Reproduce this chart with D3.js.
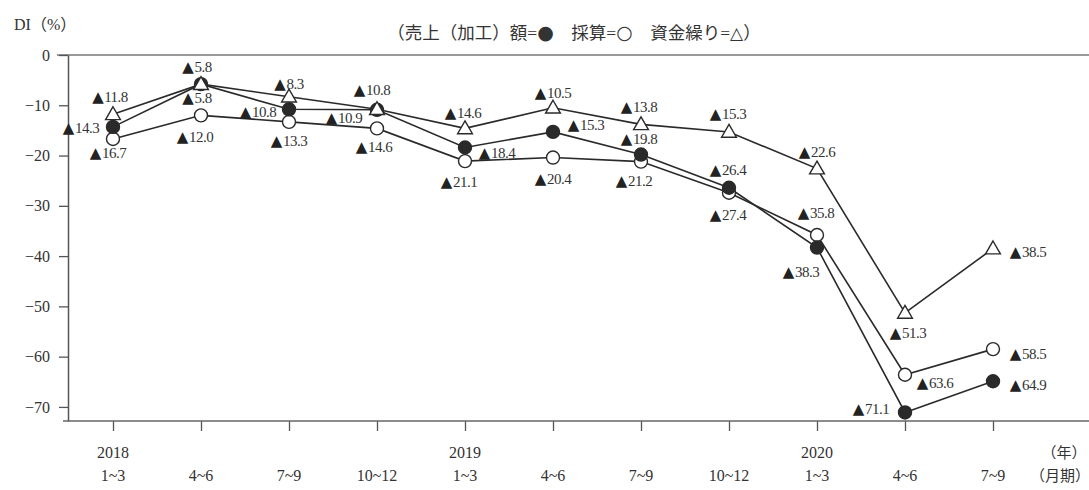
<!DOCTYPE html>
<html>
<head>
<meta charset="utf-8">
<script src="https://cdn.jsdelivr.net/npm/d3@7"></script>
<style>
  body { margin: 0; background: #fff; }
  svg text { font-family: "Liberation Serif", "Noto Sans CJK JP", serif; fill: #333; }
</style>
</head>
<body>
<svg id="chart"></svg>
<script>
const years = ['2018', '', '', '', '2019', '', '', '', '2020', '', '']
const quarters = ['1~3', '4~6', '7~9', '10~12', '1~3', '4~6', '7~9', '10~12', '1~3', '4~6', '7~9']
const yTicks = [0, -10, -20, -30, -40, -50, -60, -70]

const sales = [-14.3, -5.8, -10.8, -10.9, -18.4, -15.3, -19.8, -26.4, -38.3, -71.1, -64.9]
const profit = [-16.7, -12.0, -13.3, -14.6, -21.1, -20.4, -21.2, -27.4, -35.8, -63.6, -58.5]
const cash = [-11.8, -5.8, -8.3, -10.8, -14.6, -10.5, -13.8, -15.3, -22.6, -51.3, -38.5]

// label offsets from each marker (layout only)
const salesLab = [[-32,1],[-4,14],[-31,3],[-33,8],[32,5],[33,-7],[-2,-16],[-1,-18],[-16,24],[-34,-3],[35,4]]
const profitLab = [[-5,14],[-6,22],[0,19],[-3,19],[-6,21],[0,21],[-7,19],[-1,22],[-1,-22],[30,8],[35,5]]
const cashLab = [[-3,-17],[-4,-17],[0,-13],[-5,-19],[-2,-15],[0,-15],[-2,-17],[-1,-18],[0,-17],[3,20],[35,3]]

const width = 1089, height = 490
const svg = d3.select('#chart').attr('width', width).attr('height', height)

const x = d3.scaleLinear().domain([0, 10]).range([113, 993])
const y = d3.scaleLinear().domain([0, -72.8]).range([55, 421])
const ink = '#2a2a2a'

// title + legend
svg.append('text').attr('x', 14).attr('y', 30).style('font-size', '16px').text('DI（%）')
const leg = svg.append('text').attr('x', 574).attr('y', 39).attr('text-anchor', 'middle')
   .style('font-size', '17.5px')
leg.append('tspan').text('（売上（加工）額=')
leg.append('tspan').style('font-family', 'DejaVu Sans').style('font-size', '19px').text('●')
leg.append('tspan').text('　採算=')
leg.append('tspan').style('font-family', 'DejaVu Sans').style('font-size', '19px').text('○')
leg.append('tspan').text('　資金繰り=')
leg.append('tspan').style('font-family', 'DejaVu Sans').style('font-size', '17px').text('△')
leg.append('tspan').text('）')

// zero line across the top
svg.append('line').attr('x1', 57).attr('x2', width).attr('y1', y(0)).attr('y2', y(0))
   .attr('stroke', '#777').attr('stroke-width', 1.5)

// y axis
const yAxis = svg.append('g').attr('transform', 'translate(68,0)')
   .call(d3.axisLeft(y).tickValues(yTicks).tickSize(9).tickSizeOuter(0).tickPadding(9))
yAxis.select('.domain').attr('stroke', '#555').attr('stroke-width', 1.5)
yAxis.selectAll('.tick line').attr('stroke', '#555').attr('stroke-width', 1.3)
yAxis.selectAll('.tick text').style('font-size', '16px').attr('fill', '#333')

// x axis
const xAxis = svg.append('g').attr('transform', `translate(0,${y.range()[1]})`)
   .call(d3.axisBottom(x).tickValues(d3.range(11)).tickSize(10).tickFormat(''))
xAxis.select('.domain').remove()
xAxis.selectAll('.tick line').attr('stroke', '#555').attr('stroke-width', 1.3)
svg.append('line').attr('x1', 63).attr('x2', width).attr('y1', y.range()[1]).attr('y2', y.range()[1])
   .attr('stroke', '#666').attr('stroke-width', 1.5)

svg.append('g').selectAll('text').data(years).join('text')
   .attr('x', (d, i) => x(i)).attr('y', 458).attr('text-anchor', 'middle')
   .style('font-size', '16px').text(d => d)
svg.append('g').selectAll('text').data(quarters).join('text')
   .attr('x', (d, i) => x(i)).attr('y', 481).attr('text-anchor', 'middle')
   .style('font-size', '16px').text(d => d)
svg.append('text').attr('x', 1064).attr('y', 458).attr('text-anchor', 'middle')
   .style('font-size', '15px').text('（年）')
svg.append('text').attr('x', 1060).attr('y', 481).attr('text-anchor', 'middle')
   .style('font-size', '15px').text('（月期）')

const line = d3.line().x((d, i) => x(i)).y(d => y(d))

const series = [
  { vals: profit, labs: profitLab, shape: 'open' },
  { vals: sales, labs: salesLab, shape: 'dot' },
  { vals: cash, labs: cashLab, shape: 'tri' }
]

series.forEach(s => {
  svg.append('path').datum(s.vals).attr('d', line)
     .attr('fill', 'none').attr('stroke', ink).attr('stroke-width', 1.6)
})

series.forEach(s => {
  const g = svg.append('g')
  if (s.shape === 'tri') {
    g.selectAll('path').data(s.vals).join('path')
     .attr('d', d3.symbol(d3.symbolTriangle, 95))
     .attr('transform', (d, i) => `translate(${x(i)},${y(d) + 1})`)
     .attr('fill', '#fff').attr('stroke', ink).attr('stroke-width', 1.4)
  } else {
    g.selectAll('circle').data(s.vals).join('circle')
     .attr('cx', (d, i) => x(i)).attr('cy', d => y(d)).attr('r', 6.5)
     .attr('fill', s.shape === 'dot' ? ink : '#fff')
     .attr('stroke', ink).attr('stroke-width', 1.4)
  }
})

series.forEach(s => {
  const t = svg.append('g').selectAll('text').data(s.vals).join('text')
     .attr('x', (d, i) => x(i) + s.labs[i][0])
     .attr('y', (d, i) => y(d) + s.labs[i][1])
     .attr('text-anchor', 'middle').attr('dominant-baseline', 'central')
     .style('font-size', '15px').style('letter-spacing', '-0.5px')
  t.append('tspan').style('font-family', 'DejaVu Sans').style('font-size', '15px').attr('fill', '#222').text('▲')
  t.append('tspan').attr('dx', 1).text(d => Math.abs(d).toFixed(1))
})
</script>
</body>
</html>
